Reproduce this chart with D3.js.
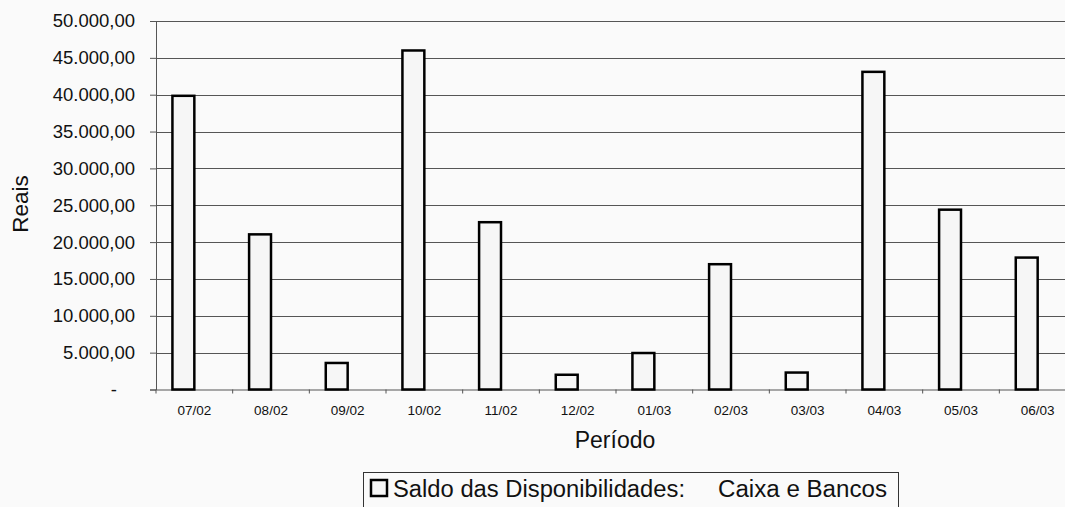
<!DOCTYPE html>
<html>
<head>
<meta charset="utf-8">
<script src="https://cdn.jsdelivr.net/npm/d3@7"></script>
<style>
  html, body { margin: 0; padding: 0; background: #fafafa; }
  svg { display: block; font-family: "Liberation Sans", Arial, sans-serif; }
</style>
</head>
<body>
<svg id="chart" width="1065" height="507"></svg>
<script>
const categories = ["07/02","08/02","09/02","10/02","11/02","12/02","01/03","02/03","03/03","04/03","05/03","06/03"];
const saldoValues = [39850, 21050, 3600, 46000, 22700, 2000, 4950, 17000, 2300, 43100, 24400, 17900];
const seriesNames = ["Saldo das Disponibilidades:", "Caixa e Bancos"];
const yTicks = [0, 5000, 10000, 15000, 20000, 25000, 30000, 35000, 40000, 45000, 50000];
const yMax = 50000;

const svg = d3.select("#chart");
const W = 1065, H = 507;
const plot = { left: 156, right: 1076, top: 21, bottom: 389.5 };

svg.append("rect").attr("width", W).attr("height", H).attr("fill", "#fafafa");

const x = d3.scaleBand().domain(categories).range([plot.left, plot.right]).padding(0);
// Excel-style clustered columns: two series slots, gap width 150%
const xInner = d3.scaleBand().domain(["saldo", "empty"]).range([0, x.bandwidth()]).paddingInner(0).paddingOuter(0.75);
const y = d3.scaleLinear().domain([0, yMax]).range([plot.bottom, plot.top]);

const ptBR = d3.formatLocale({ decimal: ",", thousands: ".", grouping: [3], currency: ["R$ ", ""] });
const fmt = ptBR.format(",.2f");

// gridlines
svg.append("g")
  .selectAll("line")
  .data(yTicks.filter(d => d > 0))
  .join("line")
  .attr("x1", plot.left).attr("x2", plot.right)
  .attr("y1", d => Math.round(y(d)) + 0.5).attr("y2", d => Math.round(y(d)) + 0.5)
  .attr("stroke", "#555").attr("stroke-width", 1);

// y axis
const yAxis = svg.append("g")
  .attr("transform", `translate(${plot.left},0)`)
  .call(d3.axisLeft(y).tickValues(yTicks).tickSize(6).tickPadding(15)
    .tickFormat(d => d === 0 ? "-" : fmt(d)));
yAxis.select(".domain").attr("stroke", "#555");
yAxis.selectAll(".tick line").attr("stroke", "#555");
yAxis.selectAll(".tick text")
  .attr("font-size", "18.5px").attr("fill", "#111")
  .attr("font-family", "Liberation Sans, Arial, sans-serif")
  .attr("dx", d => d === 0 ? "-18px" : 0);

// x axis
const xAxis = svg.append("g")
  .attr("transform", `translate(0,${plot.bottom})`)
  .call(d3.axisBottom(x).tickSize(0).tickPadding(16));
xAxis.select(".domain").attr("stroke", "#555");
xAxis.selectAll(".tick text")
  .attr("font-size", "13.5px").attr("fill", "#111")
  .attr("font-family", "Liberation Sans, Arial, sans-serif");
// tick marks at category boundaries
svg.append("g")
  .selectAll("line")
  .data(categories)
  .join("line")
  .attr("x1", d => x(d)).attr("x2", d => x(d))
  .attr("y1", plot.bottom).attr("y2", plot.bottom + 4)
  .attr("stroke", "#555");

// bars
svg.append("g")
  .selectAll("rect")
  .data(categories.map((c, i) => ({ c, v: saldoValues[i] })))
  .join("rect")
  .attr("x", d => x(d.c) + xInner("saldo"))
  .attr("width", xInner.bandwidth())
  .attr("y", d => y(d.v))
  .attr("height", d => y(0) - y(d.v))
  .attr("fill", "#f6f6f6")
  .attr("stroke", "#000")
  .attr("stroke-width", 2.5);

// axis titles
svg.append("text")
  .attr("x", (plot.left + plot.right) / 2 - 1).attr("y", 448)
  .attr("text-anchor", "middle")
  .attr("font-size", "23px").attr("fill", "#111")
  .text("Período");

svg.append("text")
  .attr("transform", "translate(28,204) rotate(-90)")
  .attr("text-anchor", "middle")
  .attr("font-size", "22.5px").attr("fill", "#111")
  .text("Reais");

// legend
const legend = svg.append("g");
legend.append("rect")
  .attr("x", 363.5).attr("y", 472.5).attr("width", 535).attr("height", 50)
  .attr("fill", "#fafafa").attr("stroke", "#333").attr("stroke-width", 1);
legend.append("rect")
  .attr("x", 371).attr("y", 480).attr("width", 16).attr("height", 16)
  .attr("fill", "#f6f6f6").attr("stroke", "#000").attr("stroke-width", 2.5);
legend.append("text")
  .attr("x", 393).attr("y", 496.5)
  .attr("font-size", "23px").attr("fill", "#111")
  .attr("textLength", 292).attr("lengthAdjust", "spacingAndGlyphs")
  .text(seriesNames[0]);
legend.append("text")
  .attr("x", 718).attr("y", 496.5)
  .attr("font-size", "23px").attr("fill", "#111")
  .attr("textLength", 169).attr("lengthAdjust", "spacingAndGlyphs")
  .text(seriesNames[1]);
</script>
</body>
</html>
